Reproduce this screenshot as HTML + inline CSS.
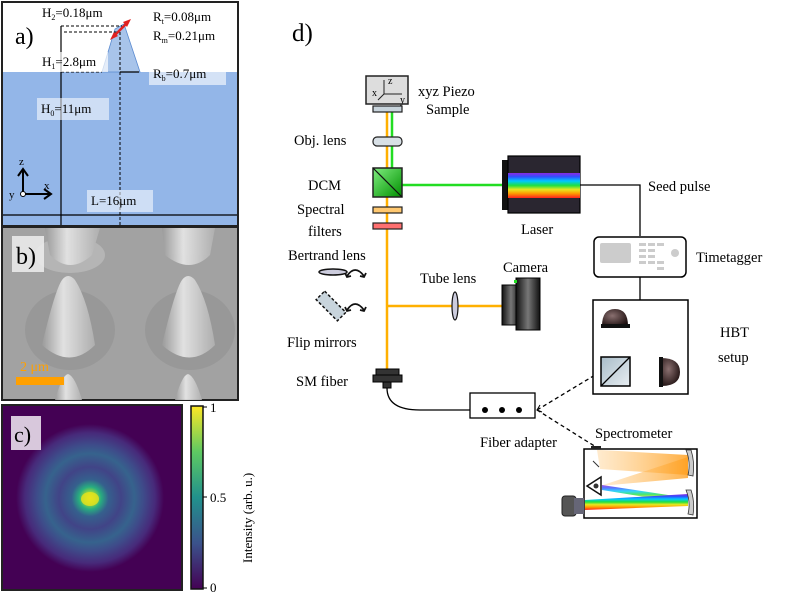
<!DOCTYPE html>
<html><head><meta charset="utf-8"><style>
html,body{margin:0;padding:0;background:#fff;}
svg{display:block;font-family:"Liberation Serif",serif;}
</style></head><body>
<svg width="793" height="592" viewBox="0 0 793 592" xmlns="http://www.w3.org/2000/svg">
<defs>
<linearGradient id="rb" x1="0" y1="0" x2="0" y2="1">
<stop offset="0" stop-color="#8a2be2"/><stop offset="0.15" stop-color="#3050ff"/><stop offset="0.32" stop-color="#00c8ff"/><stop offset="0.5" stop-color="#20e040"/><stop offset="0.66" stop-color="#e8e820"/><stop offset="0.82" stop-color="#ff9a00"/><stop offset="1" stop-color="#ff2020"/>
</linearGradient>
<linearGradient id="grn" x1="0" y1="0" x2="1" y2="1"><stop offset="0" stop-color="#80ee80"/><stop offset="1" stop-color="#009000"/></linearGradient>
<linearGradient id="bs" x1="0" y1="0" x2="1" y2="1"><stop offset="0" stop-color="#a8bcc8"/><stop offset="1" stop-color="#e8eef2"/></linearGradient>
<linearGradient id="cam" x1="0" y1="0" x2="1" y2="0"><stop offset="0" stop-color="#111"/><stop offset="0.5" stop-color="#777"/><stop offset="1" stop-color="#111"/></linearGradient>
<radialGradient id="dome" cx="0.4" cy="0.4" r="0.7"><stop offset="0" stop-color="#8a7070"/><stop offset="1" stop-color="#1a0c0c"/></radialGradient>
<linearGradient id="cb" x1="0" y1="1" x2="0" y2="0">
<stop offset="0" stop-color="#440154"/><stop offset="0.25" stop-color="#3b528b"/><stop offset="0.5" stop-color="#21918c"/><stop offset="0.75" stop-color="#5ec962"/><stop offset="1" stop-color="#fde725"/>
</linearGradient>
<radialGradient id="spot" cx="0.5" cy="0.5" r="0.5">
<stop offset="0" stop-color="#f4e61e"/><stop offset="0.07" stop-color="#9fda3a"/><stop offset="0.15" stop-color="#28ae80"/><stop offset="0.25" stop-color="#35608d"/><stop offset="0.42" stop-color="#414487"/><stop offset="0.6" stop-color="#36638d"/><stop offset="0.72" stop-color="#3e4c8a"/><stop offset="0.88" stop-color="#472a7a"/><stop offset="1" stop-color="#440154"/>
</radialGradient>
<linearGradient id="cone" x1="0" y1="0" x2="1" y2="0"><stop offset="0" stop-color="#9a9a9a"/><stop offset="0.4" stop-color="#e8e8e8"/><stop offset="1" stop-color="#b0b0b0"/></linearGradient>
<linearGradient id="spo" x1="1" y1="0" x2="0" y2="0"><stop offset="0" stop-color="#ffa020"/><stop offset="1" stop-color="#ffd8a0" stop-opacity="0.6"/></linearGradient>
</defs>

<!-- panel a -->
<rect x="2" y="2" width="236" height="224" fill="#fff" stroke="#222" stroke-width="2"/>
<rect x="3" y="72" width="234" height="153" fill="#93b6e8"/>
<polygon points="102,72 115,29 124,24 140,72" fill="#a8c4ea" stroke="#5a8ad0" stroke-width="0.8"/>
<line x1="3" y1="215" x2="237" y2="215" stroke="#000" stroke-width="1.2"/>
<line x1="61" y1="26" x2="61" y2="225" stroke="#000" stroke-width="1.2"/>
<path d="M61 26H122M64 32H118M61 72H102" stroke="#000" stroke-dasharray="3,2" fill="none"/>
<line x1="120" y1="32" x2="120" y2="225" stroke="#000" stroke-dasharray="3,2"/>
<line x1="120" y1="72" x2="139" y2="72" stroke="#000" stroke-width="1.2"/>
<line x1="113" y1="37" x2="128" y2="22" stroke="#e02020" stroke-width="2.5"/>
<polygon points="110,40 118,36 114,32" fill="#e02020"/><polygon points="131,19 123,22 127,27" fill="#e02020"/>
<text x="15" y="44" font-size="24">a)</text>
<g font-size="13">
<text x="42" y="17">H<tspan font-size="8" dy="3">2</tspan><tspan dy="-3">=0.18μm</tspan></text>
<text x="153" y="21">R<tspan font-size="8" dy="3">t</tspan><tspan dy="-3">=0.08μm</tspan></text>
<text x="153" y="40">R<tspan font-size="8" dy="3">m</tspan><tspan dy="-3">=0.21μm</tspan></text>
<rect x="38" y="52" width="70" height="20" fill="#fff" opacity="0.7"/>
<text x="42" y="66">H<tspan font-size="8" dy="3">1</tspan><tspan dy="-3">=2.8μm</tspan></text>
<rect x="149" y="65" width="77" height="20" fill="#fff" opacity="0.6"/>
<text x="153" y="78">R<tspan font-size="8" dy="3">b</tspan><tspan dy="-3">=0.7μm</tspan></text>
<rect x="37" y="98" width="72" height="22" fill="#fff" opacity="0.55"/>
<text x="41" y="113">H<tspan font-size="8" dy="3">0</tspan><tspan dy="-3">=11μm</tspan></text>
<rect x="87" y="190" width="66" height="22" fill="#fff" opacity="0.55"/>
<text x="91" y="205">L=16μm</text>
<text x="19" y="165" font-size="11">z</text><text x="44" y="189" font-size="11">x</text><text x="9" y="198" font-size="11">y</text>
</g>
<path d="M23 194V170M18 176L23 169L28 176M23 194H50M44 189L51 194L44 199" stroke="#000" stroke-width="2" fill="none"/>
<circle cx="23" cy="194" r="2.5" fill="#fff" stroke="#000"/>

<!-- panel b -->
<rect x="2" y="227" width="236" height="173" fill="#a2a2a2" stroke="#222" stroke-width="2"/>
<g fill="url(#cone)" opacity="0.9">
<ellipse cx="70" cy="255" rx="35" ry="18" fill="#b8b8b8"/>
<path d="M45 228L50 255Q70 275 92 255L100 228Z"/>
<path d="M162 228L165 255Q190 275 210 255L215 228Z"/>
<ellipse cx="70" cy="330" rx="45" ry="40" fill="#989898"/>
<path d="M42 345Q55 290 62 280Q68 272 75 280Q88 300 95 345Q70 370 42 345Z"/>
<ellipse cx="190" cy="330" rx="45" ry="40" fill="#989898"/>
<path d="M162 345Q175 290 182 280Q188 272 195 280Q208 300 215 345Q190 370 162 345Z"/>
<path d="M55 400Q62 375 68 374Q75 376 82 400Z"/>
<path d="M175 400Q182 375 188 374Q195 376 202 400Z"/>
</g>
<rect x="12" y="236" width="32" height="36" fill="#eee" opacity="0.85"/>
<text x="16" y="264" font-size="24">b)</text>
<text x="20" y="371" font-size="14" fill="#ffa000">2 μm</text>
<rect x="16" y="377" width="48" height="8" fill="#ffa000"/>

<!-- panel c -->
<rect x="2" y="405" width="180" height="185" fill="#440154" stroke="#222" stroke-width="2"/>
<circle cx="90" cy="498" r="74" fill="url(#spot)"/>
<ellipse cx="90" cy="499" rx="9" ry="7" fill="#e8e21a" opacity="0.8"/>
<rect x="11" y="416" width="30" height="34" fill="#d8c8dc"/>
<text x="14" y="442" font-size="22">c)</text>
<rect x="191" y="406" width="12" height="183" fill="url(#cb)" stroke="#111" stroke-width="1.5"/>
<path d="M203 407h4M203 497h4M203 588h4" stroke="#000"/>
<text x="210" y="412" font-size="13">1</text><text x="210" y="502" font-size="13">0.5</text><text x="210" y="592" font-size="13">0</text>
<text transform="translate(252 563) rotate(-90)" font-size="13">Intensity (arb. u.)</text>

<!-- panel d -->
<text x="292" y="41" font-size="25">d)</text>
<g stroke-width="2.5" fill="none">
<line x1="387" y1="112" x2="387" y2="375" stroke="#ffb000"/>
<line x1="392" y1="112" x2="392" y2="170" stroke="#22dd22"/>
<line x1="402" y1="185" x2="503" y2="185" stroke="#22dd22"/>
<line x1="387" y1="306" x2="503" y2="306" stroke="#ffb000"/>
<line x1="615" y1="327" x2="615" y2="357" stroke="#ffb000" stroke-width="2"/>
<line x1="630" y1="371" x2="660" y2="371" stroke="#ffb000" stroke-width="2"/>
</g>
<rect x="366" y="76" width="42" height="28" fill="#ddd" stroke="#222" stroke-width="1.5"/>
<path d="M384 94V80M384 94H402M384 94L378 100" stroke="#222" fill="none"/>
<text x="388" y="84" font-size="10">z</text><text x="372" y="96" font-size="10">x</text><text x="400" y="103" font-size="10">y</text>
<rect x="373" y="106" width="29" height="6" fill="#c8d4dc" stroke="#222" stroke-width="1.2"/>
<rect x="373" y="137" width="29" height="9" rx="4" fill="#d8e0e6" stroke="#222" stroke-width="1.2"/>
<rect x="373" y="168" width="29" height="29" fill="url(#grn)" stroke="#222" stroke-width="1.5"/>
<line x1="373" y1="168" x2="402" y2="197" stroke="#111" stroke-width="1.2"/>
<rect x="373" y="207" width="29" height="6" fill="#ffc870" stroke="#222" stroke-width="1.2"/>
<rect x="373" y="223" width="29" height="6" fill="#ff7070" stroke="#222" stroke-width="1.2"/>
<ellipse cx="333" cy="272" rx="14" ry="3" fill="#ccd" stroke="#111" stroke-width="1.5"/>
<path d="M347 276Q355 264 364 276M345 273l2 4 4-1M366 273l-2 4-4-1" stroke="#111" stroke-width="1.8" fill="none"/>
<path d="M347 310Q355 298 364 310M345 307l2 4 4-1M366 307l-2 4-4-1" stroke="#111" stroke-width="1.8" fill="none"/>
<rect x="316" y="300" width="30" height="12" fill="#c8d4dc" stroke="#111" stroke-width="1.5" stroke-dasharray="3,2" transform="rotate(45 331 306)"/>
<ellipse cx="455" cy="306" rx="3" ry="14" fill="#ccd" stroke="#111" stroke-width="1.2"/>
<rect x="502" y="285" width="18" height="40" fill="url(#cam)" stroke="#000"/>
<rect x="516" y="278" width="24" height="52" fill="url(#cam)" stroke="#000"/>
<rect x="514" y="280" width="3" height="3" fill="#2d2"/>
<rect x="376" y="369" width="23" height="6" fill="#333" stroke="#000"/>
<rect x="373" y="375" width="29" height="7" fill="#333" stroke="#000"/>
<rect x="383" y="382" width="8" height="6" fill="#333" stroke="#000"/>
<path d="M387 388Q387 410 420 410H470" stroke="#000" stroke-width="1.3" fill="none"/>
<rect x="470" y="393" width="65" height="25" fill="#fff" stroke="#000" stroke-width="1.3"/>
<circle cx="485" cy="410" r="3"/><circle cx="502" cy="410" r="3"/><circle cx="519" cy="410" r="3"/>
<path d="M537 410L600 372M537 410L596 447" stroke="#000" stroke-width="1.3" stroke-dasharray="4,3" fill="none"/>
<path d="M540 405l-3 5 5 2" stroke="#000" fill="none"/>
<rect x="502" y="160" width="8" height="50" fill="#111"/>
<rect x="508" y="156" width="72" height="57" fill="#2a2630" stroke="#000" stroke-width="1.2"/>
<rect x="508" y="173" width="72" height="25" fill="url(#rb)"/>
<path d="M580 185H640V236M640 277V300" stroke="#000" stroke-width="1.3" fill="none"/>
<rect x="594" y="237" width="92" height="40" rx="5" fill="#fff" stroke="#000" stroke-width="1.5"/>
<rect x="600" y="243" width="31" height="20" rx="2" fill="#ccc"/>
<g fill="#ccc"><rect x="639" y="243" width="7" height="3"/><rect x="648" y="243" width="7" height="3"/><rect x="657" y="243" width="7" height="3"/>
<rect x="639" y="249" width="7" height="3"/><rect x="648" y="249" width="7" height="3"/>
<rect x="639" y="255" width="7" height="3"/><rect x="648" y="255" width="7" height="3"/>
<rect x="639" y="261" width="7" height="3"/><rect x="648" y="261" width="7" height="3"/><rect x="657" y="261" width="7" height="3"/><rect x="657" y="267" width="7" height="3"/>
<circle cx="675" cy="253" r="4"/></g>
<rect x="593" y="300" width="95" height="94" fill="#fff" stroke="#000" stroke-width="1.5"/>
<path d="M602 326Q602 309 615 309Q628 309 628 326Z" fill="url(#dome)"/><rect x="601" y="324" width="29" height="4" fill="#111"/>
<rect x="601" y="357" width="29" height="29" fill="url(#bs)" stroke="#000" stroke-width="1.5"/>
<line x1="601" y1="386" x2="630" y2="357" stroke="#000" stroke-width="1.3"/>
<path d="M661 358Q680 358 680 372Q680 386 661 386Z" fill="url(#dome)"/><rect x="659" y="357" width="4" height="30" fill="#111"/>
<rect x="584" y="449" width="113" height="69" fill="#fff" stroke="#000" stroke-width="1.5"/>
<rect x="591" y="446" width="10" height="3" fill="#222"/>
<polygon points="597,450 600,450 688,455 688,475 600,469" fill="url(#spo)" opacity="0.85"/>
<polygon points="600,486 688,457 688,478" fill="url(#spo)" opacity="0.8"/>
<path d="M602 485L688 498L688 504L602 490Z" fill="url(#rb)" opacity="0.8"/>
<path d="M585 500L688 494L688 506L585 510Z" fill="url(#rb)"/>
<path d="M686 450Q691 462 688 475L693 476Q695 462 691 450Z" fill="#ccc" stroke="#333" stroke-width="0.8"/>
<path d="M686 490Q691 502 688 514L693 515Q695 502 691 490Z" fill="#ccc" stroke="#333" stroke-width="0.8"/>
<line x1="593" y1="461" x2="599" y2="467" stroke="#333" stroke-width="1"/>
<polygon points="587,486 601,477 601,495" fill="#fff" stroke="#111" stroke-width="1.5"/><circle cx="596" cy="486" r="2.5" fill="#333"/>
<rect x="562" y="496" width="14" height="20" rx="3" fill="#555" stroke="#222"/><rect x="574" y="498" width="10" height="16" fill="#667"/>
<g font-size="14.5">
<text x="418" y="96">xyz Piezo</text><text x="426" y="114">Sample</text>
<text x="294" y="145">Obj. lens</text>
<text x="308" y="190">DCM</text>
<text x="297" y="214">Spectral</text><text x="308" y="236">filters</text>
<text x="288" y="260">Bertrand lens</text>
<text x="420" y="283">Tube lens</text>
<text x="503" y="272">Camera</text>
<text x="521" y="234">Laser</text>
<text x="648" y="191">Seed pulse</text>
<text x="696" y="262">Timetagger</text>
<text x="720" y="337">HBT</text><text x="718" y="362">setup</text>
<text x="287" y="347">Flip mirrors</text>
<text x="296" y="386">SM fiber</text>
<text x="480" y="447">Fiber adapter</text>
<text x="595" y="438">Spectrometer</text>
</g>
</svg>
</body></html>
